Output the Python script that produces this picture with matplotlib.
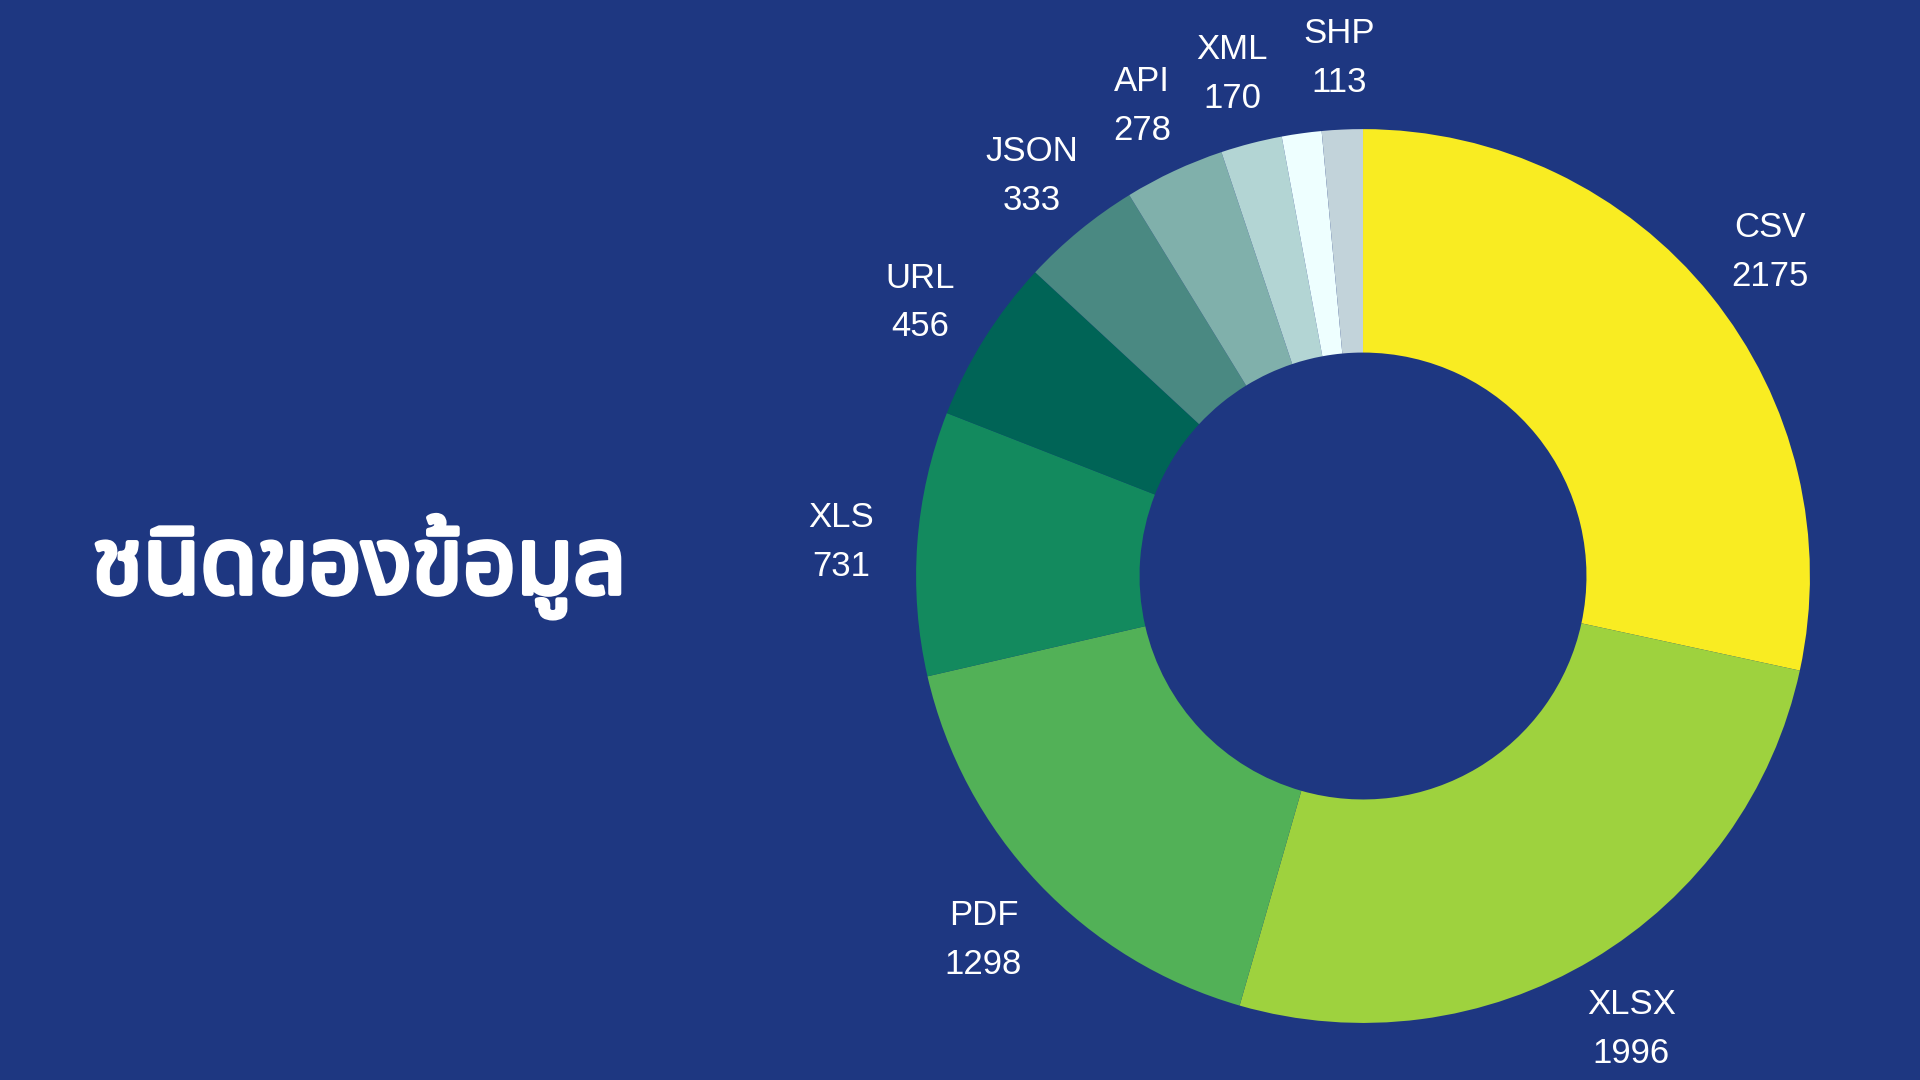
import numpy as np
import matplotlib
matplotlib.use("Agg")
import matplotlib.pyplot as plt
import matplotlib.patheffects as pe

# data (clockwise from 12 o'clock)
labels = ["CSV", "XLSX", "PDF", "XLS", "URL", "JSON", "API", "XML", "", "SHP"]
values = [2175, 1996, 1298, 731, 456, 333, 278, 170, 110, 113]
colors = ["#F9EC22", "#9ED23E", "#52B157", "#138A5E", "#006456",
          "#4A8982", "#80B0AB", "#B3D5D4", "#EEFFFF", "#C2D3DA"]
title = "ชนิดของข้อมูล"

bg = "#1E3781"

fig = plt.figure(figsize=(19.2, 10.8), dpi=100, facecolor=bg)

# square axes in pixels, centred where the donut sits
ax = fig.add_axes([0.4073, -0.0713, 0.6052, 1.0759])
ax.set_facecolor(bg)

wedges, _ = ax.pie(values, colors=colors, startangle=90, counterclock=False,
                   radius=1.0, wedgeprops=dict(width=0.5, linewidth=0))
ax.set_xlim(-1.3, 1.3)
ax.set_ylim(-1.3, 1.3)
ax.axis("off")

# labels: name + value, centred just outside each wedge
for w, name, val in zip(wedges, labels, values):
    if not name:
        continue
    mid = np.deg2rad((w.theta1 + w.theta2) / 2)
    r = 1.17
    ax.annotate(f"{name}\n{val}", (r * np.cos(mid), r * np.sin(mid)),
                xytext=(0, -3), textcoords="offset points",
                ha="center", va="center", color="white", fontsize=25,
                family="Liberation Sans", linespacing=1.6)

# Noto Sans Thai only ships a regular weight here, so thicken it with a stroke
fig.text(0.0479, 0.4505, title, color="white", fontsize=67,
         family=["Noto Sans Thai", "DejaVu Sans"], ha="left", va="baseline",
         path_effects=[pe.Stroke(linewidth=3.5, foreground="white"), pe.Normal()])

fig.savefig("out.png", facecolor=bg)
